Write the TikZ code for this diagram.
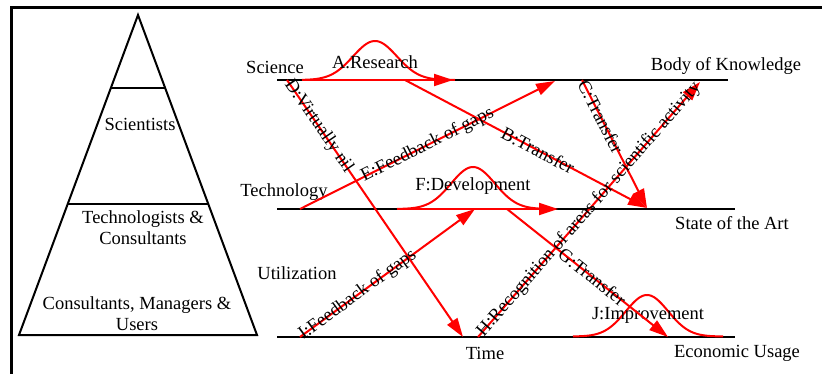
\documentclass[tikz,border=0pt]{standalone}
\usepackage{fontspec}
\setmainfont{Liberation Serif}
\usetikzlibrary{arrows.meta}
\begin{document}
\begin{tikzpicture}[x=1pt,y=-1pt,
  txt/.style={font=\fontsize{18.5}{20.7}\selectfont, inner sep=0pt, align=center},
  blk/.style={line width=2pt, black},
  rd/.style={line width=2pt, red},
  rarrow/.style={rd, -{Triangle[length=19pt,width=12pt]}},
  lbl/.style={txt, sloped, black},
]
\useasboundingbox (0,0) rectangle (822,374);
% frame
\coordinate (fr1) at (822,8);
\coordinate (fr2) at (11,8);
\coordinate (fr3) at (11,374);
\draw[line width=3pt] (fr1) -- (fr2) -- (fr3);
% pyramid
\coordinate (apex) at (138,15);
\coordinate (bl) at (19,335);
\coordinate (br) at (257,335);
\draw[line width=2pt, line join=miter] (apex) -- (br) -- (bl) -- cycle;
\coordinate (p1l) at (111,88);
\coordinate (p1r) at (165,88);
\coordinate (p2l) at (68,204);
\coordinate (p2r) at (208,204);
\draw[line width=2pt] (p1l) -- (p1r);
\draw[line width=2pt] (p2l) -- (p2r);
\node[txt] (sci) at (140,124) {Scientists};
\node[txt] (tec) at (143,228) {Technologists \&\\Consultants};
\node[txt] (usr) at (137,314) {Consultants, Managers \&\\Users};
% black level lines
\coordinate (s1) at (277,80);
\coordinate (s2) at (728,80);
\coordinate (t1) at (277,209);
\coordinate (t2) at (735,209);
\coordinate (u1) at (277,337);
\coordinate (u2) at (735,337);
\draw[blk] (s1) -- (s2);
\draw[blk] (t1) -- (t2);
\draw[blk] (u1) -- (u2);
% level labels
\node[txt] (lsci) at (275,67) {Science};
\node[txt] (ltec) at (284,192) {Technology};
\node[txt] (luti) at (297,273) {Utilization};
\node[txt] (lbok) at (726,66) {Body of Knowledge};
\node[txt] (lsoa) at (732,223) {State of the Art};
\node[txt] (leco) at (737,353) {Economic Usage};
\node[txt] (ltim) at (485,353) {Time};
% bell curves
\draw[rd] plot[domain=302:455, samples=80] (\x, {80 - 39*exp(-(((\x-375)/31)^2))});
\draw[rd] plot[domain=397:552, samples=80] (\x, {209 - 42*exp(-(((\x-473)/31)^2))});
\draw[rd] plot[domain=573:723, samples=80] (\x, {336.5 - 41.5*exp(-(((\x-647)/30)^2))});
\node[txt] (la) at (375,62) {A.Research};
\node[txt] (lf) at (473,186) {F:Development};
\node[txt] (lj) at (648,315) {J:Improvement};
% red connectors
\coordinate (a1) at (302,80);
\coordinate (a2) at (453,80);
\coordinate (f1) at (397,209);
\coordinate (f2) at (558,209);
\coordinate (b1) at (405,80);
\coordinate (b2) at (647,208);
\coordinate (c1) at (582,80);
\coordinate (d1) at (287,80);
\coordinate (d2) at (463,337);
\coordinate (e1) at (300,209);
\coordinate (e2) at (555,81);
\coordinate (g1) at (507,209);
\coordinate (g2) at (668,337);
\coordinate (h1) at (478,337);
\coordinate (h2) at (700,82);
\coordinate (i1) at (300,337);
\coordinate (i2) at (475,209);
\draw[rarrow] (a1) -- (a2);
\draw[rarrow] (f1) -- (f2);
\draw[rarrow] (b1) -- node[lbl, pos=0.55] {B:Transfer} (b2);
\draw[rarrow] (c1) -- node[lbl, pos=0.29] {C:Transfer} (b2);
\draw[rarrow] (d1) -- node[lbl, pos=0.18] {D:Virtually nil} (d2);
\draw[rarrow] (e1) -- node[lbl, pos=0.5] {E:Feedback of gaps} (e2);
\draw[rarrow] (g1) -- node[lbl, pos=0.53] {G:Transfer} (g2);
\draw[rarrow] (h1) -- node[lbl, pos=0.5] {H:Recognition of areas for scientific activity} (h2);
\draw[rarrow] (i1) -- node[lbl, pos=0.33] {I:Feedback of gaps} (i2);
\end{tikzpicture}
\end{document}
